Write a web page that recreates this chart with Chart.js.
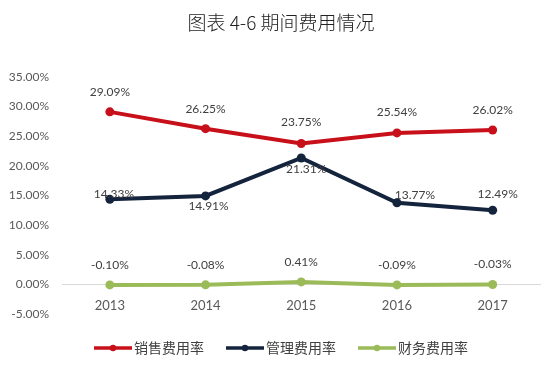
<!DOCTYPE html>
<html>
<head>
<meta charset="utf-8">
<script src="https://cdn.jsdelivr.net/npm/chart.js@4/dist/chart.umd.min.js"></script>
<style>
  html, body { margin: 0; padding: 0; background: #fff; }
  #wrap { width: 545px; height: 390px; }
</style>
</head>
<body>
<div id="wrap"><canvas id="c" width="545" height="390"></canvas></div>
<script>
// ---- data ----
const titleText = '图表 4-6 期间费用情况';
const years = ['2013', '2014', '2015', '2016', '2017'];
const seriesNames = ['销售费用率', '管理费用率', '财务费用率'];
const salesRate = [29.09, 26.25, 23.75, 25.54, 26.02];
const adminRate = [14.33, 14.91, 21.31, 13.77, 12.49];
const financeRate = [-0.10, -0.08, 0.41, -0.09, -0.03];
const yMin = -5, yMax = 35, yStep = 5;

// ---- styles ----
const colors = ['#C8101A', '#15243D', '#9BBB59'];
const labelFont = '12px Lato, "Liberation Sans", sans-serif';
// label offsets (style): [dx, dy] relative to each point, per dataset
const labelOffsets = [
  [[0,-20],[0,-20],[0,-21],[0,-21],[0,-20]],
  [[4,-5],[3,10],[5,11],[18,-8],[5,-16]],
  [[0,-20],[0,-20],[0,-20],[0,-20],[0,-20]]
];

const dataLabelPlugin = {
  id: 'dataLabels',
  afterDatasetsDraw(chart) {
    const ctx = chart.ctx;
    ctx.save();
    ctx.font = labelFont;
    ctx.fillStyle = '#404040';
    ctx.textAlign = 'center';
    ctx.textBaseline = 'middle';
    chart.data.datasets.forEach((ds, di) => {
      const meta = chart.getDatasetMeta(di);
      meta.data.forEach((pt, i) => {
        const off = labelOffsets[di][i];
        ctx.fillText(ds.data[i].toFixed(2) + '%', pt.x + off[0], pt.y + off[1]);
      });
    });
    ctx.restore();
  }
};

const legendMarkPlugin = {
  id: 'legendMarks',
  afterDraw(chart) {
    const lg = chart.legend;
    if (!lg || !lg.legendHitBoxes) return;
    const ctx = chart.ctx;
    ctx.save();
    lg.legendHitBoxes.forEach((hb, i) => {
      const y = hb.top + hb.height / 2;
      ctx.strokeStyle = colors[i];
      ctx.lineWidth = 3.5;
      ctx.beginPath();
      ctx.moveTo(hb.left, y);
      ctx.lineTo(hb.left + 38, y);
      ctx.stroke();
      ctx.fillStyle = colors[i];
      ctx.beginPath();
      ctx.arc(hb.left + 19, y, 3.2, 0, Math.PI * 2);
      ctx.fill();
    });
    ctx.restore();
  }
};

const seriesData = [salesRate, adminRate, financeRate];
const datasets = seriesData.map((d, i) => ({
  label: seriesNames[i],
  data: d,
  borderColor: colors[i],
  backgroundColor: colors[i],
  borderWidth: 4,
  pointRadius: 4.5,
  pointBackgroundColor: colors[i],
  pointBorderColor: colors[i],
  pointBorderWidth: 0,
  tension: 0,
  fill: false
}));

new Chart(document.getElementById('c'), {
  type: 'line',
  data: { labels: years, datasets: datasets },
  options: {
    responsive: false,
    animation: false,
    devicePixelRatio: 1,
    layout: { padding: { top: 0, left: 17, right: 0, bottom: 20 } },
    plugins: {
      title: {
        display: true,
        text: titleText,
        color: '#222',
        font: { family: '"Noto Sans CJK SC", sans-serif', size: 19, weight: 300, lineHeight: 1.2 },
        padding: { top: 11, bottom: 43 }
      },
      legend: {
        display: true,
        position: 'bottom',
        labels: {
          font: { family: '"Noto Sans CJK SC", sans-serif', size: 14 },
          color: '#404040',
          boxWidth: 33,
          boxHeight: 24,
          padding: 22,
          generateLabels(chart) {
            return chart.data.datasets.map((ds, i) => ({
              text: ds.label,
              fillStyle: 'rgba(0,0,0,0)',
              strokeStyle: 'rgba(0,0,0,0)',
              lineWidth: 0,
              fontColor: '#404040',
              datasetIndex: i,
              hidden: false
            }));
          }
        }
      },
      tooltip: { enabled: false }
    },
    scales: {
      x: {
        position: { y: 0 },
        offset: true,
        grid: { display: false, drawTicks: false },
        border: { display: true, color: '#D9D9D9', width: 1 },
        ticks: {
          color: '#595959',
          font: { family: 'Lato, "Liberation Sans", sans-serif', size: 13 },
          padding: 14,
          maxRotation: 0
        }
      },
      y: {
        min: yMin,
        max: yMax,
        grid: { display: false, drawTicks: false },
        border: { display: false },
        afterFit(scale) {
          scale.width = 45;
          scale._computeLabelArea = () => undefined;
        },
        ticks: {
          stepSize: yStep,
          color: '#595959',
          font: { family: 'Lato, "Liberation Sans", sans-serif', size: 12 },
          padding: 13,
          callback: v => v.toFixed(2) + '%'
        }
      }
    }
  },
  plugins: [dataLabelPlugin, legendMarkPlugin]
});
</script>
</body>
</html>
